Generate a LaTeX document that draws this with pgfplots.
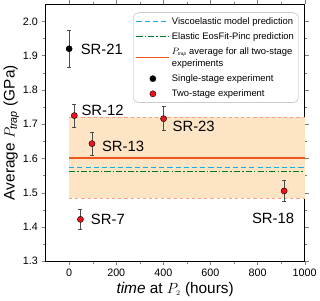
\documentclass[border=0pt]{standalone}
\usepackage{pgfplots}
\pgfplotsset{compat=1.18}
\usepackage{fontspec}
\setmainfont{Liberation Sans}
\definecolor{bandfill}{RGB}{253,228,196}
\definecolor{bandedge}{RGB}{250,160,130}
\definecolor{vblue}{RGB}{20,170,240}
\definecolor{egreen}{RGB}{0,120,40}
\definecolor{aorange}{RGB}{240,85,30}
\definecolor{rred}{RGB}{235,20,30}
\pgfplotsset{
  longline/.style={legend image code/.code={\draw[##1] (0pt,0pt) -- (32pt,0pt);}},
  longmark/.style={legend image code/.code={\draw[mark repeat=2,mark phase=2,##1] plot coordinates {(0pt,0pt)(16pt,0pt)(32pt,0pt)};}},
}
\tikzset{ptlabel/.style={font=\fontsize{14.5}{16}\selectfont, inner sep=2pt}}
\begin{document}
\begin{tikzpicture}
\begin{axis}[
  width=253pt, height=251pt, scale only axis,
  xmin=-100, xmax=1000, ymin=1.3, ymax=2.05,
  xtick={0,200,400,600,800,1000},
  minor x tick num=1,
  ytick={1.3,1.4,1.5,1.6,1.7,1.8,1.9,2.0},
  minor y tick num=1,
  tick align=outside,
  major tick length=4pt, minor tick length=2.5pt,
  xticklabel style={/pgf/number format/set thousands separator={}},
  yticklabel style={/pgf/number format/fixed,/pgf/number format/precision=1,/pgf/number format/fixed zerofill},
  /pgf/number format/assume math mode=true,
  tick label style={font=\fontsize{10.5}{12}\selectfont},
  xlabel={\textit{time} at $P_{\scriptscriptstyle 2}$ (hours)},
  ylabel={Average $P_{\mathit{trap}}$ (GPa)},
  label style={font=\fontsize{15}{17}\selectfont},
  xlabel style={yshift=1pt},
  ylabel style={yshift=-3pt},
  axis line style={black, line width=0.7pt},
  legend style={at={(axis cs:975,2.026)}, anchor=north east, draw=gray!60, rounded corners=5pt,
    font=\fontsize{9.2}{10}\selectfont, row sep=2.6pt, inner sep=2.5pt, fill=white},
  legend cell align=left,
  legend style={legend columns=1},
  clip=false,
]
% band
\addplot[fill=bandfill, draw=none, forget plot] coordinates {(0,1.483) (1000,1.483) (1000,1.72) (0,1.72)} -- cycle;
\addplot[bandedge, dashed, line width=0.6pt, forget plot] coordinates {(0,1.483) (1000,1.483)};
\addplot[bandedge, dashed, line width=0.6pt, forget plot] coordinates {(0,1.72) (1000,1.72)};
% lines
\addplot[vblue, line width=1.3pt, dash pattern=on 5pt off 3pt, longline] coordinates {(0,1.573) (1000,1.573)};
\addlegendentry{Viscoelastic model prediction}
\addplot[egreen, line width=1.3pt, dash pattern=on 6pt off 2pt on 1.5pt off 2pt, longline] coordinates {(0,1.561) (1000,1.561)};
\addlegendentry{Elastic EosFit-Pinc prediction}
\addplot[aorange, line width=1.3pt, longline] coordinates {(0,1.601) (1000,1.601)};
\addlegendentry{\shortstack[l]{$P_{\scriptscriptstyle\mathit{trap}}$ average for all two-stage\\experiments}}
% points
\addplot[only marks, mark=*, mark size=3pt, black, longmark,
  error bars/.cd, y dir=both, y explicit, error bar style={black!70, line width=0.5pt},
  error mark options={rotate=90, mark size=2pt, black!70}]
  coordinates {(0,1.92) +- (0,0.053)};
\addlegendentry{Single-stage experiment}
\addplot[only marks, mark=*, mark size=3pt, mark options={fill=rred, draw=black, line width=0.4pt}, longmark,
  error bars/.cd, y dir=both, y explicit, error bar style={black!70, line width=0.5pt},
  error mark options={rotate=90, mark size=2pt, black!70}]
  coordinates {(22,1.725) +- (0,0.034) (97,1.643) +- (0,0.033) (48,1.422) +- (0,0.03) (401,1.716) +- (0,0.035) (913,1.505) +- (0,0.03)};
\addlegendentry{Two-stage experiment}
% labels
\node[anchor=west, ptlabel] at (axis cs:40,1.919) {SR-21};
\node[anchor=west, ptlabel] at (axis cs:43,1.74) {SR-12};
\node[anchor=west, ptlabel] at (axis cs:130,1.635) {SR-13};
\node[anchor=west, ptlabel] at (axis cs:83,1.422) {SR-7};
\node[anchor=west, ptlabel] at (axis cs:430,1.692) {SR-23};
\node[anchor=east, ptlabel] at (axis cs:965,1.425) {SR-18};
\end{axis}
\end{tikzpicture}
\end{document}
